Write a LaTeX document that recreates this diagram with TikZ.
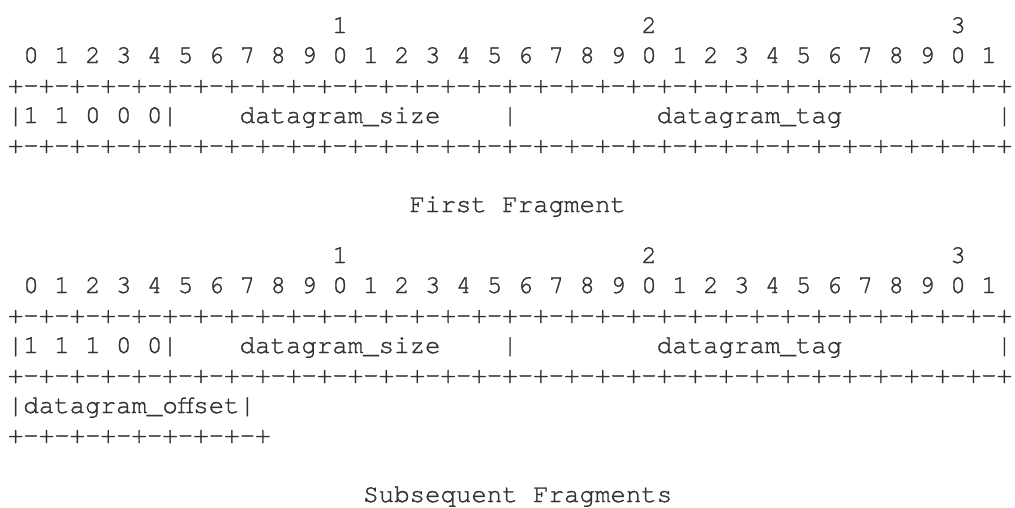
\documentclass[tikz,border=0pt]{standalone}
\usepackage{fontspec}
% Courier-style typewriter face, slightly thickened strokes
\newfontfamily\cursorfont[BoldFont={TeX Gyre Cursor}, BoldFeatures={FakeBold=1.2}]{TeX Gyre Cursor}
\definecolor{ink}{RGB}{50,50,50}
% one character cell of the monospaced grid, in pt
\newcommand\cellw{15.45}
\newcommand\leftx{7.9}
\begin{document}
\begin{tikzpicture}[x=1pt,y=-1pt,
  tt/.style={font=\cursorfont\bfseries\fontsize{25.75}{30}\selectfont, text=ink,
             inner sep=0pt, outer sep=0pt, anchor=base west}]
\useasboundingbox (0,0) rectangle (1015,507);

% ---------- first fragment header ----------
\node[tt] (tA1) at ({\leftx+\cellw*21},33) {1};
\node[tt] (tA2) at ({\leftx+\cellw*41},33) {2};
\node[tt] (tA3) at ({\leftx+\cellw*61},33) {3};
\node[tt] (bitsA) at ({\leftx+\cellw*1},63) {0 1 2 3 4 5 6 7 8 9 0 1 2 3 4 5 6 7 8 9 0 1 2 3 4 5 6 7 8 9 0 1};
\node[tt] (ruleA1) at ({\leftx},93) {+-+-+-+-+-+-+-+-+-+-+-+-+-+-+-+-+-+-+-+-+-+-+-+-+-+-+-+-+-+-+-+-+};
\node[tt] (dispA) at ({\leftx},123) {|1 1 0 0 0|};
\node[tt] (sizeA) at ({\leftx+\cellw*15},123) {datagram\_size};
\node[tt] (barA1) at ({\leftx+\cellw*32},123) {|};
\node[tt] (tagA) at ({\leftx+\cellw*42},123) {datagram\_tag};
\node[tt] (barA2) at ({\leftx+\cellw*64},123) {|};
\node[tt] (ruleA2) at ({\leftx},153) {+-+-+-+-+-+-+-+-+-+-+-+-+-+-+-+-+-+-+-+-+-+-+-+-+-+-+-+-+-+-+-+-+};
\node[tt] (capA) at ({\leftx+\cellw*26},212) {First Fragment};

% ---------- subsequent fragment header ----------
\node[tt] (tB1) at ({\leftx+\cellw*21},263) {1};
\node[tt] (tB2) at ({\leftx+\cellw*41},263) {2};
\node[tt] (tB3) at ({\leftx+\cellw*61},263) {3};
\node[tt] (bitsB) at ({\leftx+\cellw*1},293) {0 1 2 3 4 5 6 7 8 9 0 1 2 3 4 5 6 7 8 9 0 1 2 3 4 5 6 7 8 9 0 1};
\node[tt] (ruleB1) at ({\leftx},323) {+-+-+-+-+-+-+-+-+-+-+-+-+-+-+-+-+-+-+-+-+-+-+-+-+-+-+-+-+-+-+-+-+};
\node[tt] (dispB) at ({\leftx},353) {|1 1 1 0 0|};
\node[tt] (sizeB) at ({\leftx+\cellw*15},353) {datagram\_size};
\node[tt] (barB1) at ({\leftx+\cellw*32},353) {|};
\node[tt] (tagB) at ({\leftx+\cellw*42},353) {datagram\_tag};
\node[tt] (barB2) at ({\leftx+\cellw*64},353) {|};
\node[tt] (ruleB2) at ({\leftx},383) {+-+-+-+-+-+-+-+-+-+-+-+-+-+-+-+-+-+-+-+-+-+-+-+-+-+-+-+-+-+-+-+-+};
\node[tt] (offB) at ({\leftx},413) {|datagram\_offset|};
\node[tt] (ruleB3) at ({\leftx},443) {+-+-+-+-+-+-+-+-+};
\node[tt] (capB) at ({\leftx+\cellw*23},502) {Subsequent Fragments};
\end{tikzpicture}
\end{document}
